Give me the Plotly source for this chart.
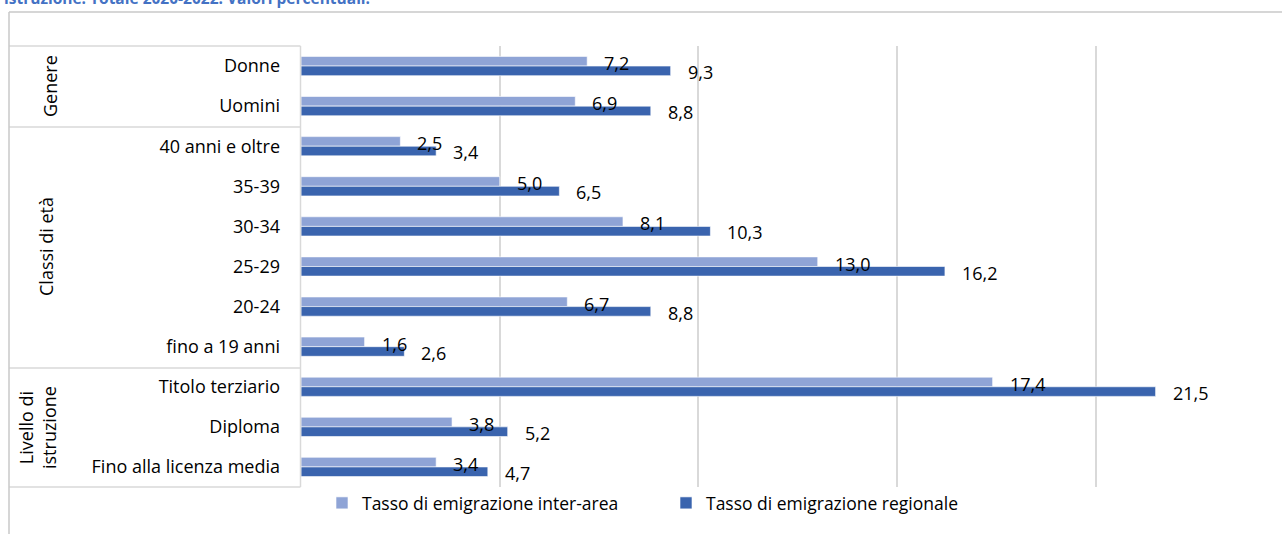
import plotly.graph_objects as go

categories = ["Donne", "Uomini", "40 anni e oltre", "35-39", "30-34", "25-29",
              "20-24", "fino a 19 anni", "Titolo terziario", "Diploma",
              "Fino alla licenza media"]
inter_area = [7.2, 6.9, 2.5, 5.0, 8.1, 13.0, 6.7, 1.6, 17.4, 3.8, 3.4]
regionale = [9.3, 8.8, 3.4, 6.5, 10.3, 16.2, 8.8, 2.6, 21.5, 5.2, 4.7]
series_names = ["Tasso di emigrazione inter-area", "Tasso di emigrazione regionale"]
groups = ["Genere", "Classi di età", "Livello di<br>istruzione"]
title_text = "istruzione. Totale 2020-2022. Valori percentuali."

W, H = 1282, 534
L, R, T, B = 301, 0, 46, 47
PW, PH = W - L - R, H - T - B
FONT = "Open Sans"
FS = 18

def px(x):
    return (x - L) / PW

def py(y):
    return (H - B - y) / PH

def fmt(v):
    return f"{v:.1f}".replace(".", ",")

fig = go.Figure()
fig.add_trace(go.Bar(y=categories, x=inter_area, orientation="h", name=series_names[0],
                     marker=dict(color="#8FA4D6", line=dict(color="#FFFFFF", width=0.6))))
fig.add_trace(go.Bar(y=categories, x=regionale, orientation="h", name=series_names[1],
                     marker=dict(color="#3A64AE", line=dict(color="#FFFFFF", width=0.6))))

annotations = []
for c, v in zip(categories, inter_area):
    annotations.append(dict(x=v, y=c, xref="x", yref="y", text=fmt(v), showarrow=False,
                            xanchor="left", yanchor="middle", xshift=15, yshift=3,
                            font=dict(family=FONT, size=FS, color="#000000")))
for c, v in zip(categories, regionale):
    annotations.append(dict(x=v, y=c, xref="x", yref="y", text=fmt(v), showarrow=False,
                            xanchor="left", yanchor="middle", xshift=15, yshift=-6,
                            font=dict(family=FONT, size=FS, color="#000000")))

# group labels
group_pos = [(50, 86), (46, 247), (37, 428)]
for g, (gx, gy) in zip(groups, group_pos):
    annotations.append(dict(x=px(gx), y=py(gy), xref="paper", yref="paper", text=g,
                            showarrow=False, textangle=-90, xanchor="center", yanchor="middle",
                            font=dict(family=FONT, size=FS, color="#000000")))

annotations.append(dict(x=px(2), y=py(11), xref="paper", yref="paper", text="<b>" + title_text + "</b>",
                        showarrow=False, xanchor="left", yanchor="bottom",
                        font=dict(family=FONT, size=15.5, color="#4472C4")))

lc = "#D9D9D9"
shapes = []
# table lines
for yy in [46, 127, 368, 487]:
    shapes.append(dict(type="line", xref="paper", yref="paper", x0=px(9), x1=px(300.5),
                       y0=py(yy), y1=py(yy), line=dict(color=lc, width=1.5)))
shapes.append(dict(type="line", xref="paper", yref="paper", x0=px(300.5), x1=px(300.5),
                   y0=py(46), y1=py(487), line=dict(color=lc, width=1.5)))
# outer frame
fc = "#C8C8C8"
shapes.append(dict(type="line", xref="paper", yref="paper", x0=px(9), x1=px(9),
                   y0=py(12), y1=py(540), line=dict(color=fc, width=1.5)))
shapes.append(dict(type="line", xref="paper", yref="paper", x0=px(9), x1=px(1290),
                   y0=py(12), y1=py(12), line=dict(color=fc, width=1.5)))

fig.update_layout(
    width=W, height=H,
    margin=dict(l=L, r=R, t=T, b=B, pad=0),
    paper_bgcolor="#FFFFFF", plot_bgcolor="#FFFFFF",
    barmode="group", bargap=0.52, bargroupgap=0,
    font=dict(family=FONT, size=FS, color="#000000"),
    xaxis=dict(range=[0, 24.68], dtick=5, showgrid=True, gridcolor=lc, gridwidth=1.5,
               showticklabels=False, zeroline=False, showline=False, ticks=""),
    yaxis=dict(autorange="reversed", showgrid=False, showline=False, ticks="",
               ticklabelstandoff=20, tickfont=dict(family=FONT, size=FS, color="#000000")),
    showlegend=True,
    legend=dict(orientation="h", x=px(322), y=py(503), xanchor="left", yanchor="middle",
                traceorder="normal", font=dict(family=FONT, size=17.5, color="#000000"),
                entrywidth=299, entrywidthmode="pixels", bgcolor="rgba(0,0,0,0)"),
    annotations=annotations,
    shapes=shapes,
)

fig.write_html("out.html", config={"displayModeBar": False},
               post_script="document.body.style.margin='0px';document.body.style.padding='0px';")
